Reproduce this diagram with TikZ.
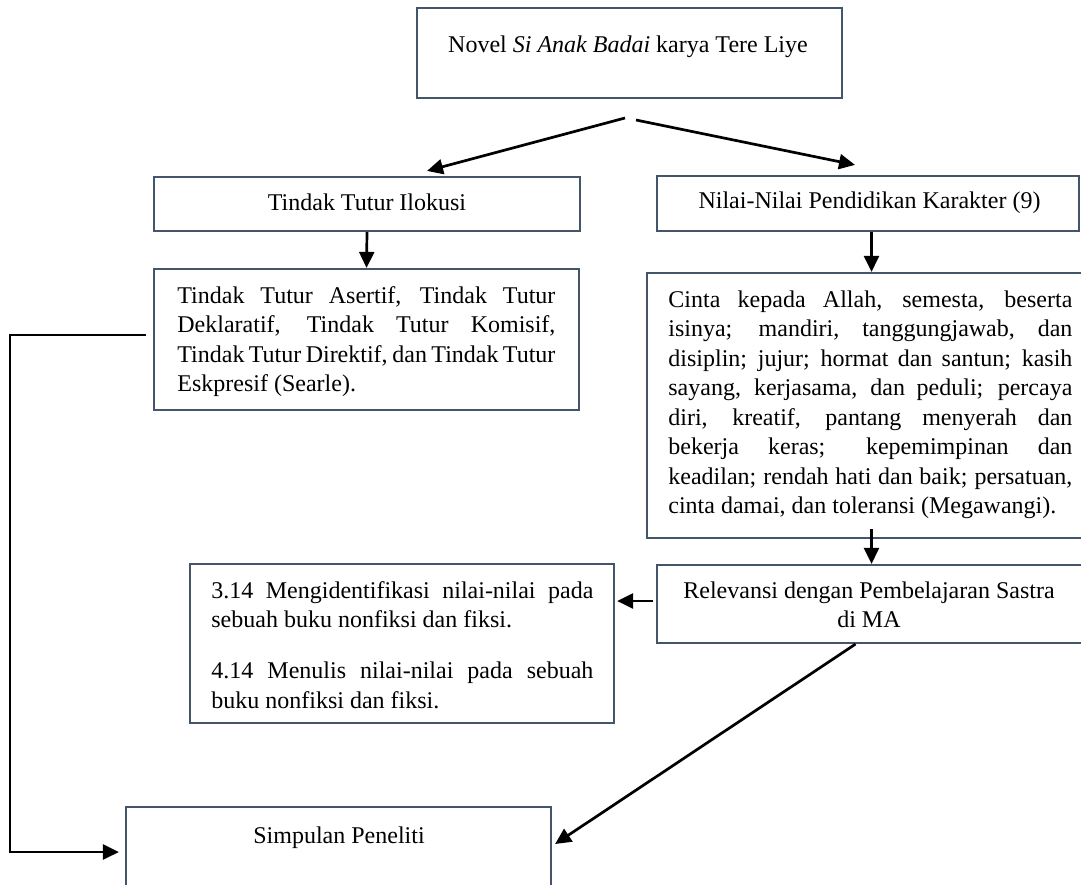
\documentclass[tikz,border=0pt]{standalone}
\usepackage{fontspec}
\setmainfont{Liberation Serif}
\usetikzlibrary{arrows.meta,fit,calc}
\definecolor{boxc}{HTML}{44546A}
\newcommand{\jl}[1]{\makebox[\linewidth][s]{#1}}
\begin{document}
\begin{tikzpicture}[x=0.5pt,y=-0.5pt,
  font=\fontsize{12}{14.75}\selectfont,
  box/.style={draw=boxc, line width=1.1pt, inner sep=0pt, fit={#1}},
  txt/.style={inner sep=0pt, anchor=base},
  partxt/.style={inner sep=0pt, anchor=base west},
  arr/.style={-{Triangle[length=8pt,width=7.5pt]}, line width=1.35pt, black}]
\useasboundingbox (0,0) rectangle (1081,884);

% boxes
\node[box={(417,8) (842,98)}] (novel) {};
\node[txt] (tnovel) at (628,52) {Novel \textit{Si Anak Badai} karya Tere Liye};

\node[box={(154,177) (580,231)}] (ilok) {};
\node[txt] (tilok) at (367,210) {Tindak Tutur Ilokusi};

\node[box={(657,176) (1079,231)}] (nilai) {};
\node[txt] (tnilai) at (869.5,208) {Nilai-Nilai Pendidikan Karakter (9)};

\node[box={(154,269) (579,410)}] (aser) {};
\node[partxt] (taser) at (177,303) {\parbox[t]{189pt}{\jl{Tindak Tutur Asertif, Tindak Tutur}\\
\jl{Deklaratif, Tindak Tutur Komisif,}\\
\jl{Tindak Tutur Direktif, dan Tindak Tutur}\\
Eskpresif (Searle).}};

\node[box={(647,273) (1086,538)}] (cinta) {};
\node[partxt] (tcinta) at (668,307) {\parbox[t]{202pt}{\jl{Cinta kepada Allah, semesta, beserta}\\
\jl{isinya; mandiri, tanggungjawab, dan}\\
\jl{disiplin; jujur; hormat dan santun; kasih}\\
\jl{sayang, kerjasama, dan peduli; percaya}\\
\jl{diri, kreatif, pantang menyerah dan}\\
\jl{bekerja keras; kepemimpinan dan}\\
\jl{keadilan; rendah hati dan baik; persatuan,}\\
cinta damai, dan toleransi (Megawangi).}};

\node[box={(657,565) (1086,643)}] (relev) {};
\node[txt] (trelev) at (869,598) {\parbox[t]{215pt}{\centering Relevansi dengan Pembelajaran Sastra\\ di MA}};

\node[box={(190,564) (614,723)}] (kd) {};
\node[partxt] (tkd) at (211,598) {\parbox[t]{191pt}{\jl{3.14 Mengidentifikasi nilai-nilai pada}\\
sebuah buku nonfiksi dan fiksi.\\[10.75pt]
\jl{4.14 Menulis nilai-nilai pada sebuah}\\
buku nonfiksi dan fiksi.}};

\node[box={(126,807) (551,888)}] (simp) {};
\node[txt] (tsimp) at (339,843) {Simpulan Peneliti};

% connectors
\coordinate (sl) at (625,118);
\coordinate (sr) at (636,120);
\draw[arr] (sl) -- ([xshift=30pt,yshift=2.5pt]ilok.north);
\draw[arr] (sr) -- ([xshift=-6.5pt,yshift=5pt]nilai.north);
\draw[arr] (ilok.south) -- (aser.north);
\draw[arr] (nilai.south -| relev.north) -- (cinta.north -| relev.north);
\draw[arr] ([yshift=5pt]cinta.south -| relev.north) -- (relev.north);
\draw[arr, shorten <=1.5pt, shorten >=1pt] ([yshift=1.5pt]relev.west) -- ([yshift=1.5pt]relev.west -| kd.east);
\draw[arr] ([xshift=-8pt]relev.south) -- ([xshift=1.5pt,yshift=1.75pt]simp.east);
\draw[arr] ([xshift=-3.5pt,yshift=2.25pt]aser.west) -- ++(-68pt,0) |- ([xshift=-3pt,yshift=-2.25pt]simp.west);
\end{tikzpicture}
\end{document}
